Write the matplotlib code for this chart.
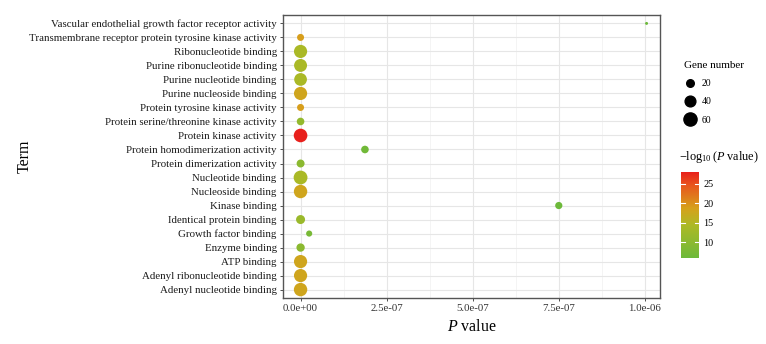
import numpy as np
import matplotlib
matplotlib.use("Agg")
import matplotlib.pyplot as plt
from matplotlib.colors import LinearSegmentedColormap, Normalize
from matplotlib.lines import Line2D

plt.rcParams['font.family'] = ['Liberation Serif', 'DejaVu Serif']
plt.rcParams['mathtext.fontset'] = 'custom'
plt.rcParams['mathtext.rm'] = 'Liberation Serif'
plt.rcParams['mathtext.it'] = 'Liberation Serif:italic'

# GO terms, bottom to top
terms = ["Adenyl nucleotide binding", "Adenyl ribonucleotide binding", "ATP binding",
         "Enzyme binding", "Growth factor binding", "Identical protein binding",
         "Kinase binding", "Nucleoside binding", "Nucleotide binding",
         "Protein dimerization activity", "Protein homodimerization activity",
         "Protein kinase activity", "Protein serine/threonine kinase activity",
         "Protein tyrosine kinase activity", "Purine nucleoside binding",
         "Purine nucleotide binding", "Purine ribonucleotide binding",
         "Ribonucleotide binding", "Transmembrane receptor protein tyrosine kinase activity",
         "Vascular endothelial growth factor receptor activity"]
pvalues = [1e-18, 1e-18, 1e-18, 1e-10, 2.5e-8, 1e-12, 7.5e-7, 1e-18, 1e-14,
           1e-10, 1.87e-7, 1e-28, 1e-11, 1e-19, 1e-18, 1e-14, 1e-14, 1e-14,
           1e-19, 1.005e-6]
gene_number = [62, 60, 60, 24, 13, 28, 18, 62, 66, 22, 20, 64, 20, 17, 60, 56,
               58, 60, 17, 3]

pvalues = np.array(pvalues)
gene_number = np.array(gene_number)
neglog = -np.log10(pvalues)

cmap = LinearSegmentedColormap.from_list(
    "gr", [(0.0, '#6cb93a'), (0.38, '#adb925'), (0.58, '#d6a11b'),
           (0.85, '#e8541c'), (1.0, '#e8201c')])
norm = Normalize(vmin=6.0, vmax=28.0)

fig = plt.figure(figsize=(7.66, 3.44), dpi=100)
W, H = 766, 344
ax = fig.add_axes([283 / W, (H - 298) / H, (660 - 283) / W, (298 - 15) / H])

y = np.arange(len(terms))
size_k = 1.5
ax.scatter(pvalues, y, s=gene_number * size_k, c=neglog, cmap=cmap, norm=norm,
           linewidths=0, zorder=3)

ax.set_xlim(-0.051e-6, 1.044e-6)
ax.set_ylim(-0.6, len(terms) - 0.4)
xt = [0, 2.5e-7, 5e-7, 7.5e-7, 1e-6]
ax.set_xticks(xt)
ax.set_xticklabels(["0.0e+00", "2.5e-07", "5.0e-07", "7.5e-07", "1.0e-06"])
ax.set_xticks([1.25e-7, 3.75e-7, 6.25e-7, 8.75e-7], minor=True)
ax.set_yticks(y)
ax.set_yticklabels(terms)
ax.grid(True, which='major', color='#e6e6e6', linewidth=0.8, zorder=0)
ax.grid(True, which='minor', axis='x', color='#f0f0f0', linewidth=0.5, zorder=0)
ax.tick_params(axis='both', which='major', labelsize=7.8, colors='#333333',
               length=2.5, width=0.6, labelcolor='#1a1a1a', pad=2)
ax.tick_params(axis='x', labelcolor='#333333')
ax.tick_params(axis='x', which='minor', length=0)
for sp in ax.spines.values():
    sp.set_color('#555555')
    sp.set_linewidth(1.0)

ax.set_xlabel(r'$\mathit{P}$ value', fontsize=11.5, labelpad=4)
ax.set_ylabel('Term', fontsize=11.5)
ax.yaxis.set_label_coords(-0.665, 0.5)

# size legend
handles = [Line2D([], [], marker='o', linestyle='none', color='black',
                  markersize=np.sqrt(n * size_k)) for n in [20, 40, 60]]
fig.legend(handles, ['20', '40', '60'], title='Gene number', loc='upper left',
           bbox_to_anchor=(680 / W, 1 - 57 / H), frameon=False, fontsize=7,
           title_fontsize=8, labelspacing=0.95, handletextpad=0.6,
           handlelength=1.2, borderaxespad=0, alignment='left')

# colour bar
cax = fig.add_axes([681 / W, (H - 258) / H, 18 / W, 86 / H])
sm = plt.cm.ScalarMappable(norm=norm, cmap=cmap)
cb = fig.colorbar(sm, cax=cax, ticks=[10, 15, 20, 25])
cb.outline.set_visible(False)
cb.ax.tick_params(labelsize=7.3, length=0, pad=3)
for v in [10, 15, 20, 25]:
    cax.axhline(v, xmin=0, xmax=0.2, color='white', linewidth=0.8)
    cax.axhline(v, xmin=0.8, xmax=1, color='white', linewidth=0.8)
fig.text(679 / W, 1 - 157 / H, r'$-\log_{10}(\mathit{P}\ \mathrm{value})$',
         fontsize=8.8, va='center', ha='left')

fig.savefig("out.png", dpi=100)
